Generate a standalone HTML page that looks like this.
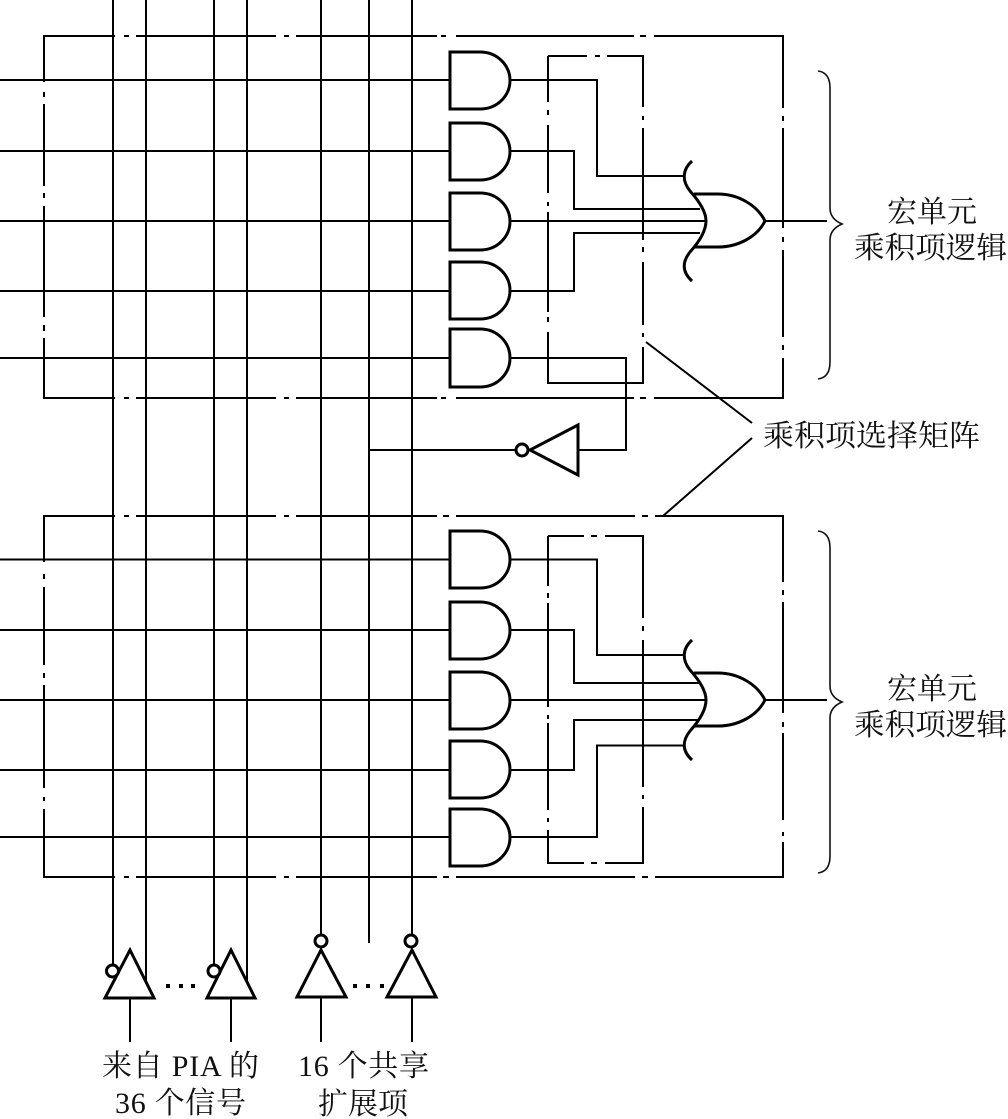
<!DOCTYPE html>
<html><head><meta charset="utf-8"><style>
html,body{margin:0;padding:0;background:#fff}
svg{display:block}
text{font-family:"Liberation Serif","Noto Serif CJK SC",serif;font-size:30px;fill:#111}
</style></head><body>
<svg width="1008" height="1119" viewBox="0 0 1008 1119" xmlns="http://www.w3.org/2000/svg">
<g fill="none" stroke="#000" stroke-width="2">
<!-- outer box 1 -->
<path d="M43 36H115M124 36H129M136 36H276M284 36H289M296 36H437M441 36H446M456 36H634M640 36H646M654 36H783V108M783 116V121M783 128V228M783 237V242M783 250V337M783 345V350M783 358V398H654M646 398H640M634 398H456M446 398H441M437 398H296M289 398H284M276 398H136M129 398H124M115 398H44V338M44 331V325M44 317V206M44 198V193M44 186V104M44 97V92M44 82V36"/>
<!-- outer box 2 -->
<path d="M43 516H115M124 516H129M136 516H276M284 516H289M296 516H437M443 516H449M456 516H635M642 516H648M655 516H783V582M783 590V595M783 602V713M783 722V727M783 733V820M783 832V836M783 842V877H655M648 877H642M635 877H456M449 877H443M437 877H296M289 877H284M276 877H136M129 877H124M115 877H44V809M44 801V797M44 788V685M44 678V673M44 665V587M44 579V574M44 562V516"/>
<!-- inner box 1 -->
<path d="M548 56H587M595 56H600M607 56H643V107M643 116V120M643 128V240M643 247V252M643 262V325M643 333V337M643 347V383H548V332M548 322V317M548 312V212M548 206V202M548 193V125M548 115V110M548 102V56"/>
<!-- inner box 2 -->
<path d="M548 536H584M591 536H597M605 536H643V618M643 626V631M643 640V787M643 795V799M643 807V863H605M597 863H591M584 863H548V830M548 822V818M548 810V723M548 719V715M548 707V603M548 598V593M548 586V536"/>
<!-- verticals -->
<path d="M113 0V966M146 0V981M214 0V966M247 0V981M321 0V936M369 0V943M412 0V936"/>
<!-- inputs -->
<path d="M0 80H449M0 151H449M0 221H449M0 291H449M0 358H449"/>
<path d="M0 559.5H449M0 630H449M0 700H449M0 770H449M0 837H449"/>
<!-- routing 1 -->
<path d="M511 80H597V176H684M511 151H574V209H700M511 221H705M511 291H574V233H700M511 358H626V450H578M369 450H517M765 221H827"/>
<!-- routing 2 -->
<path d="M511 559.5H597V655H684M511 630H574V683H699M511 700H705M511 770H574V720H699M511 837H597V745.5H684M765 700H827"/>
<!-- callouts -->
<path d="M646 342L752 423M663 516L752 438"/>
</g>
<!-- AND gates -->
<g fill="#fff" stroke="#000" stroke-width="3">
<path id="a" d="M450 52H480C498 52 510 66 510 80.500C510 95 498 109 480 109H450Z"/>
<path d="M450 123H480C498 123 510 137 510 151.500C510 166 498 180 480 180H450Z"/>
<path d="M450 193H480C498 193 510 207 510 221.500C510 236 498 250 480 250H450Z"/>
<path d="M450 262H480C498 262 510 276 510 290.500C510 305 498 319 480 319H450Z"/>
<path d="M450 329H480C498 329 510 343 510 358C510 373 498 387 480 387H450Z"/>
<path d="M450 531H480C498 531 510 545 510 559.500C510 574 498 588 480 588H450Z"/>
<path d="M450 602H480C498 602 510 616 510 630.500C510 645 498 659 480 659H450Z"/>
<path d="M450 672H480C498 672 510 686 510 700.500C510 715 498 729 480 729H450Z"/>
<path d="M450 741H480C498 741 510 755 510 769.500C510 784 498 798 480 798H450Z"/>
<path d="M450 809H480C498 809 510 823 510 837.500C510 852 498 866 480 866H450Z"/>
</g>
<!-- OR gates -->
<g fill="none" stroke="#000" stroke-width="3">
<path d="M692 161C682 170 682 181 690 191C699 201 706 212 706 221C706 231 699 242 690 252C682 262 682 272 692 281"/>
<path d="M694 194H718C738 194 757 205 765 221C757 237 738 247 718 247H694"/>
<path d="M692 640C682 649 682 660 690 670C699 680 706 691 706 700C706 710 699 721 690 731C682 741 682 751 692 760"/>
<path d="M694 673H718C738 673 757 684 765 700C757 716 738 726 718 726H694"/>
</g>
<!-- inverters -->
<g fill="#fff" stroke="#000" stroke-width="3">
<path d="M578 425V475L530 450Z"/><circle cx="522" cy="450" r="6"/>
<path d="M130 950L154 998H105Z"/><circle cx="112.500" cy="971" r="6"/>
<path d="M231 950L255 998H207Z"/><circle cx="214" cy="971" r="6"/>
<path d="M321 950L346 997H297Z"/><circle cx="321" cy="941" r="6"/>
<path d="M412 950L436 997H387Z"/><circle cx="411" cy="941" r="6"/>
</g>
<g fill="none" stroke="#000" stroke-width="2">
<path d="M130 998V1042M231 998V1042M321 997V1042M412 997V1042"/>
</g>
<g fill="#000">
<rect x="166" y="984" width="4" height="4"/><rect x="179" y="984" width="4" height="4"/><rect x="191" y="984" width="4" height="4"/>
<rect x="353" y="984" width="4" height="4"/><rect x="366" y="984" width="4" height="4"/><rect x="380" y="984" width="4" height="4"/>
</g>
<!-- braces -->
<g fill="none" stroke="#111" stroke-width="1.600">
<path d="M818 71C826 72 830 78 830 88V208C830 216 835 221 842 224C835 227 830 232 830 240V362C830 372 826 378 818 379"/>
<path d="M818 531C826 532 830 538 830 548V686C830 694 835 699 842 702C835 705 830 710 830 718V856C830 866 826 872 818 873"/>
</g>
<!-- labels -->
<text x="887" y="222" textLength="90" lengthAdjust="spacingAndGlyphs">宏单元</text>
<text x="854" y="258" textLength="153" lengthAdjust="spacingAndGlyphs">乘积项逻辑</text>
<text x="763" y="446" textLength="217" lengthAdjust="spacingAndGlyphs">乘积项选择矩阵</text>
<text x="887" y="699" textLength="90" lengthAdjust="spacingAndGlyphs">宏单元</text>
<text x="854" y="735" textLength="153" lengthAdjust="spacingAndGlyphs">乘积项逻辑</text>
<text x="102" y="1076" textLength="157" lengthAdjust="spacing">来自 PIA 的</text>
<text x="115" y="1113" textLength="131" lengthAdjust="spacing">36 个信号</text>
<text x="298" y="1076" textLength="131" lengthAdjust="spacing">16 个共享</text>
<text x="318" y="1114" textLength="90" lengthAdjust="spacingAndGlyphs">扩展项</text>
</svg>
</body></html>
